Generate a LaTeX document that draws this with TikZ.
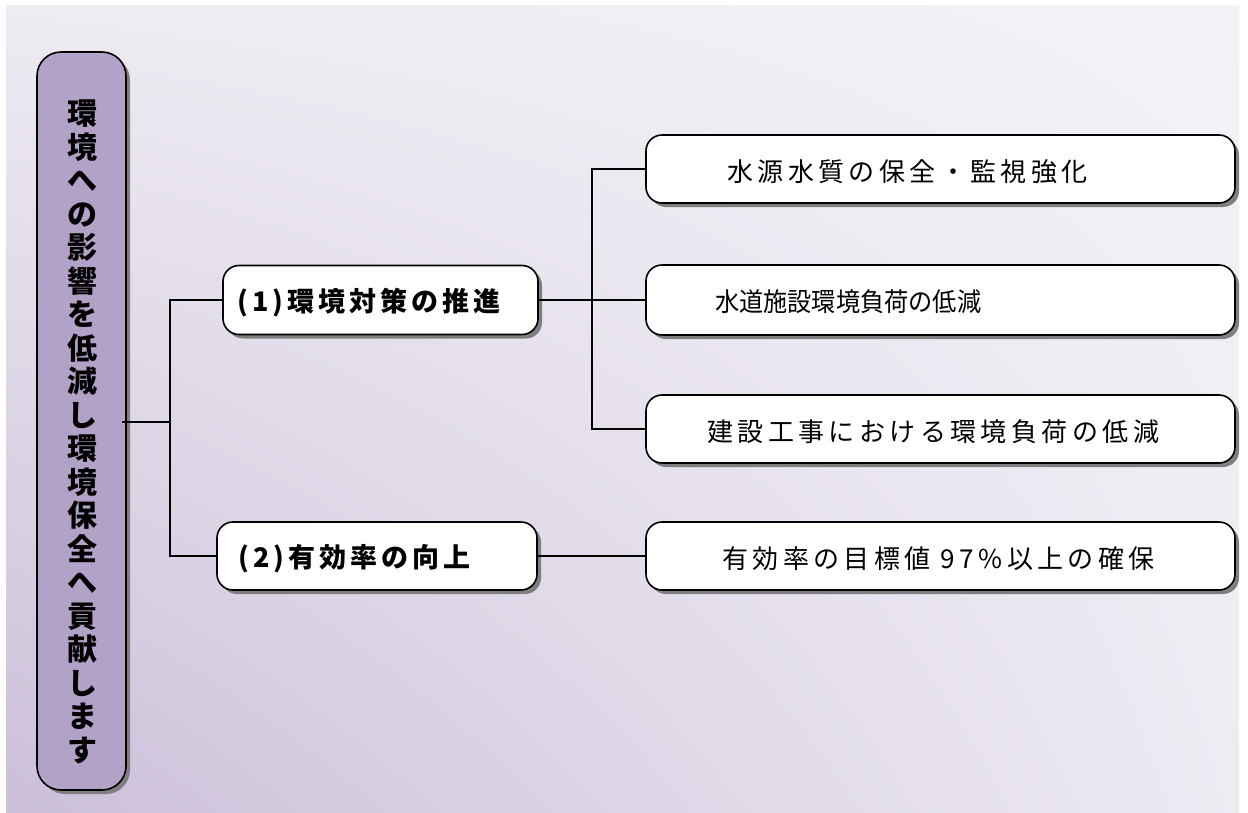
\documentclass[tikz,border=0pt]{standalone}
\usepackage{fontspec}
\newfontfamily\jp{Noto Sans CJK JP}
\usetikzlibrary{shadows,shadings}
\definecolor{bgUL}{HTML}{EEEBF2}
\definecolor{bgUR}{HTML}{F4F2F7}
\definecolor{bgLL}{HTML}{CBBFD9}
\definecolor{bgLR}{HTML}{EEEBF3}
\definecolor{mainfill}{HTML}{B3A2C8}
\definecolor{shadowgray}{HTML}{7F7F7F}
\tikzset{
  boxshadow/.style={general shadow={fill=shadowgray, shadow xshift=4pt, shadow yshift=-4pt}},
  mainbox/.style={draw=black, line width=1.6pt, fill=mainfill, rounded corners=24pt, boxshadow, inner sep=0pt},
  midbox/.style={draw=black, line width=1.6pt, fill=white, rounded corners=16pt, boxshadow, inner sep=0pt, minimum height=69pt},
  leafbox/.style={draw=black, line width=1.6pt, fill=white, rounded corners=16pt, boxshadow, inner sep=0pt, minimum width=589pt, minimum height=68pt},
  midtext/.style={anchor=west, inner sep=0pt, font=\jp\bfseries\fontsize{27}{30}\selectfont\addfontfeatures{LetterSpace=15}},
  leaftext/.style={anchor=west, inner sep=0pt, font=\jp\fontsize{26}{30}\selectfont\addfontfeatures{LetterSpace=17}},
  conn/.style={draw=black, line width=1.5pt}
}
\begin{document}
\begin{tikzpicture}[x=1pt,y=-1pt]
\useasboundingbox (0,0) rectangle (1248,812);
\shade[upper left=bgUL, upper right=bgUR, lower left=bgLL, lower right=bgLR] (6,5) rectangle (1239,812);

% main vertical box
\node[mainbox, minimum width=89pt, minimum height=738pt] (L) at (81.5,421) {};
\node[inner sep=0pt, align=center, font=\jp\bfseries\fontsize{30}{33.5}\selectfont] (Lt) at (82,432)
  {環\\境\\へ\\の\\影\\響\\を\\低\\減\\し\\環\\境\\保\\全\\へ\\貢\\献\\し\\ま\\す};

% middle boxes
\node[midbox, minimum width=315pt] (P1) at (380.5,300) {};
\node[midtext] (P1t) at (237,303) {(1)環境対策の推進};
\node[midbox, minimum width=320pt, minimum height=68pt] (P2) at (377,556) {};
\node[midtext] (P2t) at (238,559) {(2)有効率の向上};

% leaf boxes
\node[leafbox] (R1) at (940.5,169) {};
\node[leaftext] (R1t) at (727,172) {水源水質の保全・監視強化};
\node[leafbox, minimum height=70pt] (R2) at (940.5,300) {};
\node[anchor=west, inner sep=0pt, font=\jp\fontsize{26}{30}\selectfont\addfontfeatures{FakeStretch=0.93}] (R2t) at (715,302) {水道施設環境負荷の低減};
\node[leafbox] (R3) at (940.5,429) {};
\node[leaftext] (R3t) at (707,432) {建設工事における環境負荷の低減};
\node[leafbox] (R4) at (940.5,556) {};
\node[leaftext] (R4t) at (722,559) {有効率の目標値 97\%以上の確保};

% connectors
\coordinate (j1) at (170,422);
\coordinate (j2) at (592,300);
\draw[conn] ([xshift=-5pt]L.east |- j1) -- (j1);
\draw[conn] (P1.west) -| (j1);
\draw[conn] (P2.west) -| (j1);
\draw[conn] (P1.east) -- (R2.west);
\draw[conn] (R1.west) -| (j2);
\draw[conn] (R3.west) -| (j2);
\draw[conn] (P2.east) -- (R4.west);
\end{tikzpicture}
\end{document}
